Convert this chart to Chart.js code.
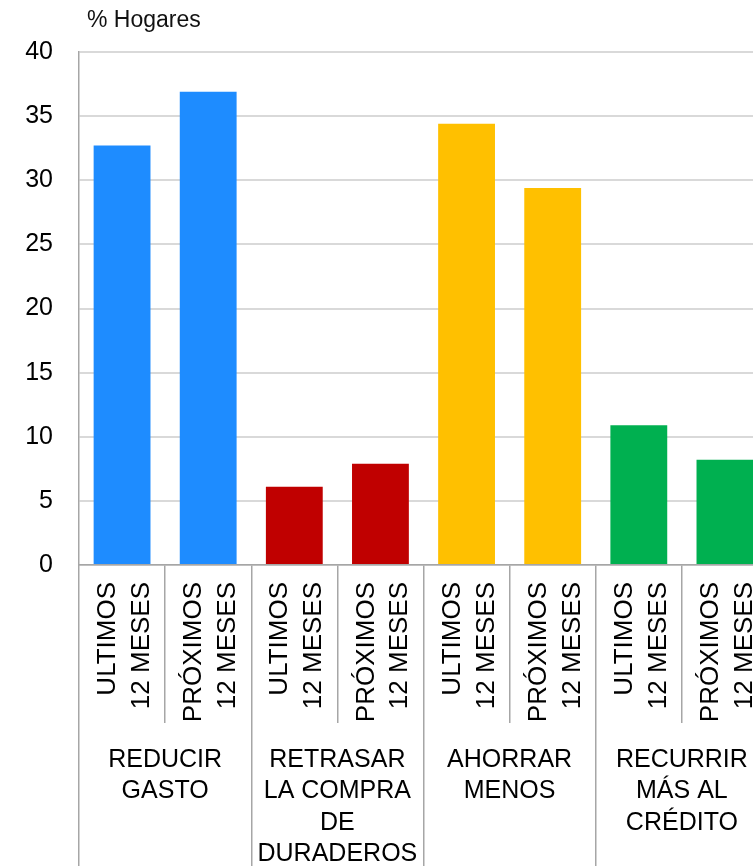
<!DOCTYPE html>
<html lang="es">
<head>
    <meta charset="UTF-8">
    <title>% Hogares</title>
    <script src="https://cdn.jsdelivr.net/npm/chart.js"></script>
    <style>
        html, body {
            margin: 0;
            padding: 0;
            overflow: hidden;
            background: white;
        }
        .wrap {
            position: relative;
            width: 768px;
            height: 866px;
        }
        .unit {
            position: absolute;
            left: 87px;
            top: 6px;
            font-family: 'Liberation Sans', Arial, sans-serif;
            font-size: 23px;
            color: #111;
        }
    </style>
</head>
<body>
<div class="wrap">
    <div class="unit">% Hogares</div>
    <canvas id="graph" width="768" height="866"></canvas>
</div>
<script>
    const periods = [
        ['ULTIMOS', '12 MESES'], ['PRÓXIMOS', '12 MESES'],
        ['ULTIMOS', '12 MESES'], ['PRÓXIMOS', '12 MESES'],
        ['ULTIMOS', '12 MESES'], ['PRÓXIMOS', '12 MESES'],
        ['ULTIMOS', '12 MESES'], ['PRÓXIMOS', '12 MESES']
    ];
    const groups = [
        ['REDUCIR', 'GASTO'],
        ['RETRASAR', 'LA COMPRA', 'DE', 'DURADEROS'],
        ['AHORRAR', 'MENOS'],
        ['RECURRIR', 'MÁS AL', 'CRÉDITO']
    ];
    const values = [32.7, 36.9, 6.1, 7.9, 34.4, 29.4, 10.9, 8.2];
    const groupColors = ['#1e8cff', '#c00000', '#ffc000', '#00b050'];
    const yTicks = [0, 5, 10, 15, 20, 25, 30, 35, 40];

    const barColors = values.map((v, i) => groupColors[Math.floor(i / 2)]);
    const font = "'Liberation Sans', Arial, sans-serif";
    const axisGray = '#a6a6a6';

    new Chart(document.getElementById('graph'), {
        type: 'bar',
        data: {
            labels: periods,
            datasets: [{
                data: values,
                backgroundColor: barColors,
                barPercentage: 0.66,
                categoryPercentage: 1
            }]
        },
        options: {
            responsive: false,
            animation: false,
            layout: { padding: { top: 52, right: 0, left: 0, bottom: 0 } },
            plugins: {
                legend: { display: false },
                tooltip: { enabled: false }
            },
            scales: {
                y: {
                    min: 0,
                    max: 40,
                    afterBuildTicks: (s) => { s.ticks = yTicks.map(v => ({ value: v })); },
                    afterFit: (s) => { s.width = 79; },
                    border: { color: axisGray, width: 1.5 },
                    grid: { color: '#d9d9d9', lineWidth: 2, drawTicks: false },
                    ticks: { padding: 26, color: '#000', font: { family: font, size: 25 } }
                },
                x: {
                    afterFit: (s) => { s.height = 158; },
                    border: { color: axisGray, width: 1.5 },
                    grid: {
                        offset: true,
                        drawOnChartArea: false,
                        color: axisGray,
                        lineWidth: 1.5,
                        tickLength: 158
                    },
                    ticks: {
                        autoSkip: false,
                        minRotation: 90,
                        maxRotation: 90,
                        padding: -141,
                        labelOffset: -14,
                        color: '#000',
                        font: { family: font, size: 26, lineHeight: 1.3 }
                    }
                },
                x2: {
                    type: 'category',
                    position: 'bottom',
                    labels: groups,
                    afterFit: (s) => { s.height = 143; },
                    border: { display: false },
                    grid: {
                        offset: true,
                        drawOnChartArea: false,
                        color: axisGray,
                        lineWidth: 1.5,
                        tickLength: 143
                    },
                    ticks: {
                        autoSkip: false,
                        maxRotation: 0,
                        padding: -122,
                        color: '#000',
                        font: { family: font, size: 25, lineHeight: 1.26 }
                    }
                }
            }
        }
    });
</script>
</body>
</html>
